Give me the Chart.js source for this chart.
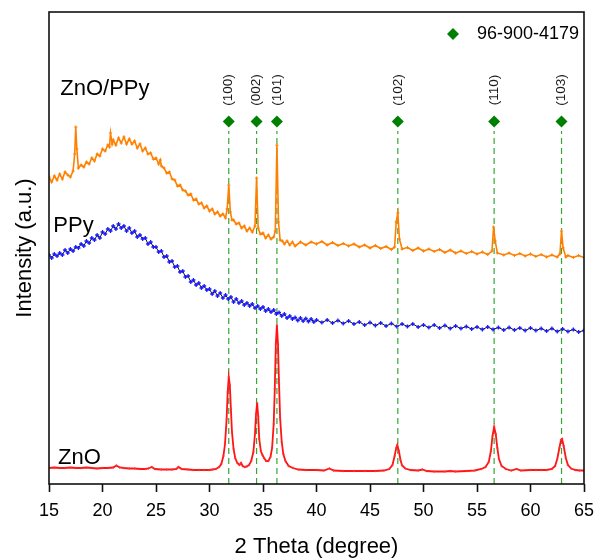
<!DOCTYPE html>
<html>
<head>
<meta charset="utf-8">
<script src="https://cdn.jsdelivr.net/npm/chart.js@4.4.1/dist/chart.umd.min.js"></script>
<style>
  html, body { margin: 0; padding: 0; background: #fff; }
  #wrap { width: 595px; height: 560px; }
</style>
</head>
<body>
<div id="wrap"><canvas id="c" width="595" height="560"></canvas></div>
<script>
// ---- data (2θ in degrees, intensity in arbitrary units) ----
const X_TICKS = [15, 20, 25, 30, 35, 40, 45, 50, 55, 60, 65];

const PEAK_POS = [31.8, 34.4, 36.3, 47.6, 56.6, 62.9];
const PEAK_HKL = ['(100)', '(002)', '(101)', '(102)', '(110)', '(103)'];

const SERIES_NAMES = ['ZnO/PPy', 'PPy', 'ZnO'];
const REF_NAME = '96-900-4179';

const ZNO_PPY = [
  [15,307],[15.25,302],[15.5,308],[15.75,304],[16,310],[16.25,305],[16.5,312],[16.75,309],[17,307],[17.25,313],
  [17.4,330],[17.5,357],[17.6,335],[17.75,316],[18,319],[18.25,317],[18.5,322],[18.75,320],[19,326],[19.25,323],
  [19.5,330],[19.75,328],[20,335],[20.25,333],[20.5,339],[20.65,337],[20.75,351],[20.9,340],[21,344],[21.25,339],
  [21.5,346],[21.75,341],[22,347],[22.25,340],[22.5,345],[22.75,340],[23,343],[23.25,336],[23.5,340],[23.75,333],
  [24,336],[24.25,330],[24.5,331],[24.75,325],[25,326],[25.25,320],[25.4,324],[25.5,318],[25.75,316],[26,311],
  [26.25,312],[26.5,305],[26.75,304],[27,298],[27.25,299],[27.5,294],[27.75,293],[28,289],[28.25,290],[28.5,284],
  [28.75,285],[29,280],[29.25,281],[29.5,276],[29.75,278],[30,273],[30.25,275],[30.5,270],[30.75,272],[31,268],
  [31.25,270],[31.5,266],[31.65,275],[31.8,299],[31.95,272],[32.1,264],[32.25,264],[32.5,260],[32.75,261],[33,256],
  [33.25,258],[33.5,253],[33.75,256],[34,252],[34.25,258],[34.4,306],[34.55,256],[34.75,250],[35,251],[35.25,246],
  [35.5,249],[35.75,245],[36,247],[36.15,253],[36.3,339],[36.45,262],[36.6,244],[36.8,243],[37,240],[37.25,243],
  [37.5,239],[37.75,242],[38,238],[38.5,242],[39,239],[39.5,242],[40,240],[40.5,242.5],[41,239],[41.5,241.5],
  [42,238.5],[42.5,240.5],[43,238],[43.5,240],[44,237],[44.5,239],[45,236],[45.5,238.5],[46,235.5],[46.5,237.5],
  [47,234.5],[47.3,237],[47.45,262],[47.6,271],[47.75,245],[48,235],[48.5,236.5],[49,233.5],[49.5,236],[50,233],
  [50.5,235],[51,232.5],[51.5,234.5],[52,231.5],[52.5,234],[53,231],[53.5,233],[54,230.5],[54.5,232.5],[55,230],
  [55.5,232],[56,229.5],[56.4,233],[56.55,257],[56.7,243],[56.9,231],[57.5,229],[58,231],[58.5,228.5],[59,230.5],
  [59.5,228],[60,230],[60.5,227.5],[61,229.5],[61.5,227],[62,229],[62.5,227],[62.75,230],[62.9,253],[63.05,236],
  [63.3,227],[63.5,228.5],[64,226.5],[64.5,228.5],[65,226.5]
];

const PPY = [
  [15,229],[15.25,226],[15.5,230],[15.75,228],[16,231],[16.25,229],[16.5,234],[16.75,231],[17,235],[17.25,233],
  [17.5,237],[17.75,236],[18,240],[18.25,238],[18.5,243],[18.75,241],[19,246],[19.25,244],[19.5,249],[19.75,246],
  [20,252],[20.25,250],[20.5,255],[20.75,253],[21,258],[21.25,255],[21.5,260],[21.75,256],[22,258],[22.25,253],
  [22.5,256],[22.75,251],[23,253],[23.25,247],[23.5,249],[23.75,245],[24,246],[24.25,240],[24.5,242],[24.75,237],
  [25,237],[25.25,232],[25.5,233],[25.75,227],[26,228],[26.25,222],[26.5,223],[26.75,217],[27,218],[27.25,212],
  [27.5,213],[27.75,207],[28,208],[28.25,202],[28.5,204],[28.75,199],[29,201],[29.25,196],[29.5,198],[29.75,194],
  [30,195],[30.25,190],[30.5,193],[30.75,188],[31,191],[31.25,186],[31.5,189],[31.75,185],[32,187],[32.25,182],
  [32.5,185],[32.75,181],[33,183],[33.25,179],[33.5,181],[33.75,178],[34,180],[34.25,176],[34.5,178],[34.75,175],
  [35,177],[35.25,173],[35.5,175],[35.75,172],[36,174],[36.25,170],[36.5,171.5],[36.75,168],[37,170],[37.25,166],
  [37.5,168],[37.75,165],[38,166.5],[38.25,163.5],[38.5,166],[38.75,163],[39,165.5],[39.25,162.5],[39.5,165],[39.75,162],
  [40,164],[40.5,161.5],[41,164],[41.5,161],[42,163.5],[42.5,160.5],[43,163],[43.5,160],[44,162],[44.5,159],
  [45,161.5],[45.5,158.5],[46,161],[46.5,158],[47,160.5],[47.5,157.5],[48,160],[48.5,157.5],[49,160],[49.5,157],
  [50,159],[50.5,156.5],[51,159],[51.5,156],[52,158.5],[52.5,155.5],[53,158],[53.5,155.5],[54,157.5],[54.5,155],
  [55,157],[55.5,154.5],[56,157],[56.5,154.5],[57,156.5],[57.5,154],[58,156.5],[58.5,154],[59,156],[59.5,153.5],
  [60,156],[60.5,153.5],[61,155.5],[61.5,153],[62,155.5],[62.5,152.5],[63,155],[63.5,152.5],[64,154.5],[64.5,152],
  [65,153.5]
];

const ZNO = [
  [15,16],[15.5,16.5],[16,16],[16.5,16],[17,16.5],[17.5,16],[18,16],[18.5,16.5],[19,16],[19.5,15.5],
  [20,16],[20.5,16],[21,16.5],[21.3,18.5],[21.6,16.5],[22,16],[22.5,15.5],[23,15.5],[23.5,15],[24,15],
  [24.3,15.5],[24.6,17],[24.9,15],[25.5,14.5],[26,14.5],[26.5,14.5],[26.9,15],[27.1,17],[27.4,15],[28,14.5],
  [28.5,14],[29,14],[29.5,14],[30,14],[30.3,14.5],[30.6,15],[30.9,17],[31.1,20],[31.3,28],[31.45,40],
  [31.6,65],[31.7,92],[31.8,107],[31.9,99],[32,75],[32.1,52],[32.25,35],[32.4,26],[32.6,21],[32.8,19],
  [32.95,21],[33.1,18],[33.3,17],[33.5,17.5],[33.7,19],[33.9,23],[34.1,32],[34.25,50],[34.35,70],[34.45,81],
  [34.55,68],[34.65,45],[34.8,33],[34.95,29],[35.1,26],[35.3,23],[35.5,23],[35.7,27],[35.85,36],[36,60],
  [36.1,95],[36.2,140],[36.3,159],[36.4,140],[36.5,100],[36.6,66],[36.75,42],[36.9,30],[37.1,23],[37.4,18],
  [37.8,16],[38.3,14.5],[39,14],[40,14],[40.7,13.5],[41.2,15.5],[41.6,13.5],[42.5,13],[43.5,13],[44.5,13],
  [45.5,13],[46.3,13.5],[46.8,15],[47.1,19],[47.3,28],[47.45,36],[47.55,39],[47.7,33],[47.85,24],[48,18.5],
  [48.3,15.5],[48.8,14],[49.5,13.5],[49.9,14.5],[50.3,13],[51,12.5],[52,12.5],[52.5,13],[53,12.5],[54,13],
  [54.8,13.5],[55.4,15],[55.8,17],[56.1,22],[56.3,33],[56.45,48],[56.6,57],[56.75,50],[56.9,36],[57.05,25],
  [57.3,18],[57.7,15],[58.2,13.5],[58.7,15],[59.1,13.5],[60,14],[60.5,14],[61,14],[61.5,14],[62,15],
  [62.3,18],[62.5,25],[62.7,36],[62.85,44],[62.95,45],[63.1,38],[63.3,26],[63.5,19],[63.8,15.5],[64.2,14],
  [64.6,13.5],[65,13.5]
];

// ---- layout / style constants ----
const FONT = '"Liberation Sans", Arial, Helvetica, sans-serif';
const Y_MAX = 472;
const DASH_TOP = 353;      // dashed reference line upper end (data units)
const DIAMOND_LEVEL = 362.5;
const HKL_LEVEL = 394;
const NAME_ANCHORS = [[16.05, 389], [15.4, 252], [15.85, 20]];

const toXY = arr => arr.map(p => ({ x: p[0], y: p[1] }));

const datasets = [];
PEAK_POS.forEach(p => {
  datasets.push({
    type: 'line',
    data: [{ x: p, y: 0 }, { x: p, y: DASH_TOP }],
    borderColor: 'rgba(20,150,20,0.85)',
    borderWidth: 1.2,
    borderDash: [6, 4],
    pointRadius: 0,
    order: 10
  });
});
datasets.push({
  label: 'ZnO/PPy', data: toXY(ZNO_PPY), borderColor: '#ff8000', borderWidth: 1.6,
  pointRadius: 1.6, pointStyle: 'cross', pointBorderColor: '#ff8000', pointBorderWidth: 1,
  pointHoverRadius: 0, order: 3
});
datasets.push({
  label: 'PPy', data: toXY(PPY), borderColor: '#111', borderWidth: 1,
  pointRadius: 2, pointStyle: 'cross', pointBorderColor: '#1a1aff', pointBorderWidth: 1.3,
  pointHoverRadius: 0, order: 3
});
datasets.push({
  label: 'ZnO', data: toXY(ZNO), borderColor: '#ff1414', borderWidth: 1.8,
  pointRadius: 1.2, pointStyle: 'cross', pointBorderColor: '#ff3030', pointBorderWidth: 0.8,
  pointHoverRadius: 0, order: 3
});
datasets.push({
  label: REF_NAME, type: 'scatter',
  data: PEAK_POS.map(p => ({ x: p, y: DIAMOND_LEVEL })),
  pointStyle: 'rectRot', pointRadius: 6, backgroundColor: '#008000', borderColor: '#008000',
  borderWidth: 0, order: 0
});

const annot = {
  id: 'annot',
  afterDatasetsDraw(chart) {
    const { ctx, scales: { x, y }, chartArea: a } = chart;
    ctx.save();
    // frame
    ctx.strokeStyle = '#111';
    ctx.lineWidth = 1.6;
    ctx.strokeRect(a.left, a.top, a.right - a.left, a.bottom - a.top);
    // hkl labels
    ctx.fillStyle = '#1a1a1a';
    ctx.font = '13.5px ' + FONT;
    ctx.textAlign = 'center';
    ctx.textBaseline = 'middle';
    PEAK_POS.forEach((p, i) => {
      ctx.save();
      ctx.translate(x.getPixelForValue(p), y.getPixelForValue(HKL_LEVEL));
      ctx.rotate(-Math.PI / 2);
      ctx.fillText(PEAK_HKL[i], 0, 0);
      ctx.restore();
    });
    // series names
    ctx.fillStyle = '#000';
    ctx.font = '22px ' + FONT;
    ctx.textAlign = 'left';
    ctx.textBaseline = 'alphabetic';
    SERIES_NAMES.forEach((n, i) => {
      ctx.fillText(n, x.getPixelForValue(NAME_ANCHORS[i][0]), y.getPixelForValue(NAME_ANCHORS[i][1]));
    });
    // legend
    const lx = a.right - 131, ly = a.top + 22;
    ctx.fillStyle = '#008000';
    ctx.beginPath();
    ctx.moveTo(lx, ly - 6); ctx.lineTo(lx + 6, ly); ctx.lineTo(lx, ly + 6); ctx.lineTo(lx - 6, ly);
    ctx.closePath(); ctx.fill();
    ctx.fillStyle = '#000';
    ctx.font = '18px ' + FONT;
    ctx.textBaseline = 'middle';
    ctx.fillText(REF_NAME, a.right - 107, ly);
    ctx.restore();
  }
};

new Chart(document.getElementById('c'), {
  type: 'line',
  data: { datasets },
  options: {
    responsive: false,
    animation: false,
    parsing: true,
    normalized: true,
    layout: { padding: { top: 12, right: 11, left: 0, bottom: 0 } },
    elements: { line: { tension: 0 } },
    plugins: { legend: { display: false }, tooltip: { enabled: false } },
    scales: {
      x: {
        type: 'linear', min: 15, max: 65,
        afterBuildTicks: s => { s.ticks = X_TICKS.map(v => ({ value: v })); },
        afterFit: s => { s.height = 76; s.paddingLeft = 0; s.paddingRight = 0; },
        grid: { drawOnChartArea: false, drawTicks: true, tickLength: 8, tickWidth: 1.6, color: '#111' },
        border: { display: false },
        ticks: { color: '#000', font: { family: FONT, size: 18 }, padding: 8, maxRotation: 0, autoSkip: false },
        title: { display: true, text: '2 Theta (degree)', color: '#000', font: { family: FONT, size: 22 }, padding: { top: 0, bottom: 0 } }
      },
      y: {
        type: 'linear', min: 0, max: Y_MAX,
        afterFit: s => { s.width = 49; s.paddingTop = 0; s.paddingBottom = 0; },
        grid: { display: false },
        border: { display: false },
        ticks: { display: false },
        title: { display: true, text: 'Intensity (a.u.)', color: '#000', font: { family: FONT, size: 22 }, padding: { top: 12, bottom: 0 } }
      }
    }
  },
  plugins: [annot]
});
</script>
</body>
</html>
